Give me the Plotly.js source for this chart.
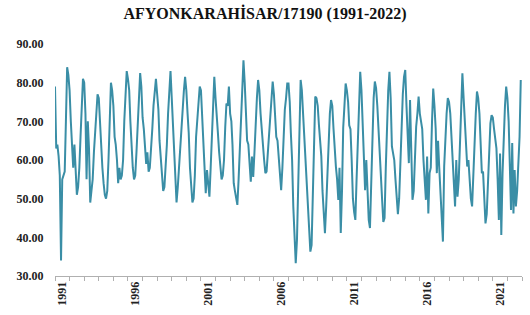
<!DOCTYPE html>
<html>
<head>
<meta charset="utf-8">
<script src="https://cdn.plot.ly/plotly-3.0.1.min.js"></script>
<style>html,body{margin:0;padding:0;background:#fff;}#chart{width:530px;height:315px;}</style>
</head>
<body>
<div id="chart"></div>
<script>
// Monthly values, Jan..Dec for each year 1991-2022
const startYear = 1991;
const endYear = 2022;
const humidity = [
  79, 63, 64, 61, 56, 34, 55, 56, 57, 70, 84, 82,          // 1991
  78, 70, 62, 58, 64, 56, 51, 53, 58, 66, 75, 81,          // 1992
  80, 72, 55, 70, 63, 49, 52, 55, 62, 68, 74, 77,          // 1993
  76, 70, 61, 58, 54, 51, 50, 52, 60, 70, 80, 78,          // 1994
  74, 66, 64, 60, 54, 58, 55, 56, 60, 70, 78, 83,          // 1995
  81, 78, 70, 62, 58, 55, 56, 62, 70, 76, 82.5, 79,        // 1996
  71, 68, 63, 59, 62, 57, 58, 62, 68, 74, 79, 81,          // 1997
  77, 73, 65, 60, 56, 52, 53, 58, 64, 72, 78, 83,          // 1998
  76, 69.5, 62, 55, 49, 53, 58, 64, 69.5, 72.5, 78, 81.5,  // 1999
  78, 72, 67, 58, 52, 49, 50, 56, 66, 70, 76, 79,          // 2000
  78, 72, 63.5, 58, 51.4, 57.4, 54, 50.5, 58, 65, 74, 81.5,// 2001
  76, 69.5, 67, 62, 58, 55, 56, 60, 68.6, 74.6, 74, 79,    // 2002
  72, 70, 64, 54, 52, 50, 48.4, 55, 62.6, 72, 80, 85.8,    // 2003
  80, 70, 65, 64, 60, 54.4, 60.9, 55.6, 62, 70, 76, 80.7,  // 2004
  78, 72, 67, 64, 60, 56.6, 57, 62, 68, 73, 76.4, 80.3,    // 2005
  77, 70, 66, 65, 60, 55, 52.2, 58, 66, 73, 76, 79.8,      // 2006
  79.8, 75, 67, 60, 48, 39, 33.3, 39.3, 55, 70, 80.7, 78,  // 2007
  72, 65, 59, 56.6, 50, 42.8, 36.3, 38, 50, 65, 76.4, 76,  // 2008
  74, 69, 64, 61, 52, 45.3, 41.1, 48, 56.6, 65, 72, 75.5,  // 2009
  74, 68, 62.2, 58.3, 55, 49.7, 58, 41.1, 52, 68.3, 74, 79.8, // 2010
  78, 75, 69, 68, 60, 50, 46.6, 44.5, 55, 64.4, 74, 82.8,  // 2011
  78, 70, 60.9, 52.2, 60, 50, 44.5, 42.4, 55, 68, 76, 80.3,// 2012
  78.6, 74, 68, 59.2, 55, 49.7, 44, 45, 58, 71.2, 78, 82.8,// 2013
  76, 63.5, 62, 60, 55, 51.4, 46, 50, 60, 69.5, 77, 81.5,  // 2014
  83.3, 74, 66, 59.2, 75.5, 60, 49.7, 52, 60.9, 68.6, 72, 76.4, // 2015
  72, 70, 68, 60, 56, 49.7, 60.9, 46.2, 56.6, 58, 70, 78.5,// 2016
  74, 68, 56.6, 65, 58, 52.2, 44.5, 38.9, 58.3, 66, 72, 76,// 2017
  75, 72, 66, 60, 55, 48, 60, 50.5, 55, 65, 74, 82.4,      // 2018
  76, 70, 61, 58.3, 60, 54, 50, 48, 56.6, 66, 72, 77.7,    // 2019
  76, 72, 65, 56.6, 57, 50, 43.6, 46, 55, 62, 69.5, 71.6,  // 2020
  71, 68, 65, 63, 55, 44.5, 61.7, 40.6, 56.6, 66, 74, 79,  // 2021
  76, 70, 60, 47.1, 64.4, 46.2, 57.4, 48, 52, 58, 66, 80.7 // 2022
];
const tickYears = ['1991', '1996', '2001', '2006', '2011', '2016', '2021'];
const yTicks = [30, 40, 50, 60, 70, 80, 90];

const dates = [];
for (let y = startYear; y <= endYear; y++) {
  for (let m = 1; m <= 12; m++) {
    dates.push(y + '-' + String(m).padStart(2, '0') + '-01');
  }
}

const serif = '"Liberation Serif", "Times New Roman", serif';

const trace = {
  x: dates,
  y: humidity,
  type: 'scatter',
  mode: 'lines',
  line: {color: '#3a8ea6', width: 2},
  hoverinfo: 'x+y'
};

const layout = {
  width: 530,
  height: 315,
  margin: {l: 55, r: 8, t: 44, b: 39},
  paper_bgcolor: '#ffffff',
  plot_bgcolor: '#ffffff',
  showlegend: false,
  title: {
    text: '<b>AFYONKARAHİSAR/17190 (1991-2022)</b>',
    font: {family: serif, size: 16, color: '#111'},
    x: 0.5, xanchor: 'center',
    y: 0.958, yref: 'container', yanchor: 'middle'
  },
  xaxis: {
    type: 'date',
    range: ['1991-01-01', '2023-01-01'],
    tickvals: tickYears.map(y => y + '-07-01'),
    ticktext: tickYears.map(y => '<b>' + y + '</b>'),
    tickangle: -90,
    ticks: '',
    showgrid: false,
    zeroline: false,
    showline: true,
    linecolor: '#b0b0b0',
    linewidth: 1,
    tickfont: {family: serif, size: 12, color: '#222'},
    minor: {
      tick0: '1991-01-01',
      dtick: 'M12',
      ticks: 'outside',
      ticklen: 4,
      tickcolor: '#b0b0b0',
      tickwidth: 1,
      showgrid: false
    }
  },
  yaxis: {
    range: [30, 90],
    tickvals: yTicks,
    ticktext: yTicks.map(v => '<b>' + v.toFixed(2) + '</b>'),
    ticks: 'outside',
    ticklen: 8,
    tickcolor: 'rgba(0,0,0,0)',
    showgrid: false,
    zeroline: false,
    showline: false,
    tickfont: {family: serif, size: 12, color: '#222'}
  }
};

Plotly.newPlot('chart', [trace], layout, {displayModeBar: false, staticPlot: true});
</script>
</body>
</html>
